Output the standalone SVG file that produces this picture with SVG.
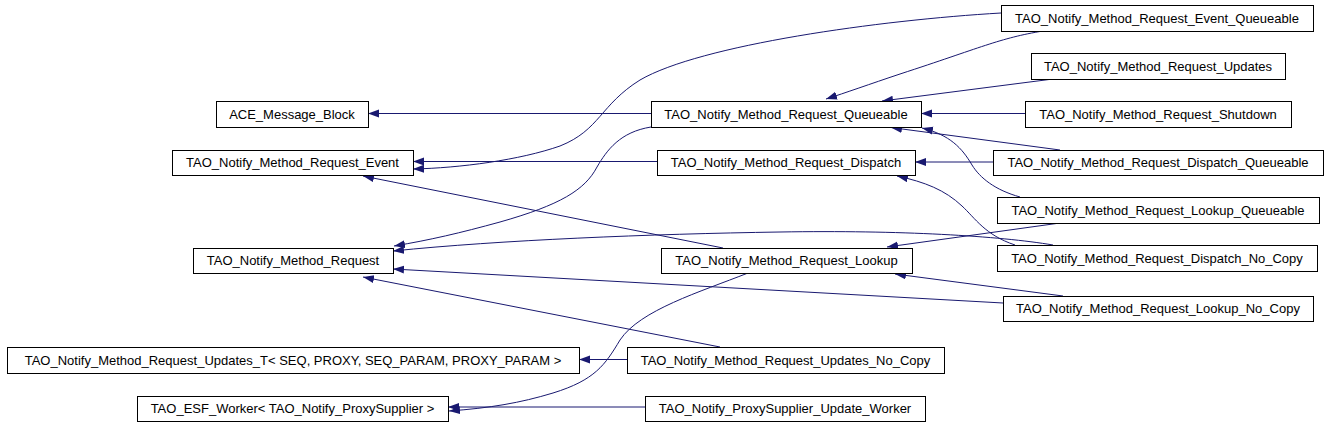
<svg xmlns="http://www.w3.org/2000/svg" width="1328" height="424" viewBox="0 0 1328 424">
<style>
.n rect{fill:#fff;stroke:#000;stroke-width:1}
.n text{font-family:"Liberation Sans",Arial,sans-serif;font-size:13px;text-anchor:middle;fill:#000}
.e path{fill:none;stroke:#191970;stroke-width:1;marker-end:url(#ah)}
</style>
<defs>
<marker id="ah" markerUnits="userSpaceOnUse" markerWidth="12" markerHeight="9" refX="11" refY="4" orient="auto"><path d="M0,0 L11,4 L0,8 z" fill="#191970" stroke="none"/></marker>
</defs>
<rect width="1328" height="424" fill="#fff"/>
<g id="connectors" class="e">
<path d="M651,113.5 L368,113.5"/>
<path d="M1025,113.5 L921,113.5"/>
<path d="M993,162 L915,162"/>
<path d="M627,359.5 L579,359.5"/>
<path d="M645,407 L448,407"/>
<path d="M657,161.5 L413,161.5"/>
<path d="M1001,13 C880,20 700,45 640,80 C600,105 600,130 560,146 C520,160 460,168 413,169"/>
<path d="M1043,31 C1000,38 980,48 900,74 C870,84 845,93 826,99"/>
<path d="M1053,79 L882,101"/>
<path d="M1060,150 L891,127.5"/>
<path d="M1020,197 C995,190 980,178 972,165 C962,148 950,135 922,128"/>
<path d="M1015,245 C985,235 975,218 962,206 C945,190 925,182 897,176"/>
<path d="M1053,245 C1000,236 900,230 780,232 C650,234 500,240 393,251"/>
<path d="M651,127 C620,132 607,150 597,167 C585,190 560,205 500,222 C460,233 430,240 394,246"/>
<path d="M723,248 L363,176"/>
<path d="M1060,223 L887,247"/>
<path d="M1063,296 L895,274"/>
<path d="M1003,303 L393,269"/>
<path d="M720,347 L363,277"/>
<path d="M748,273 C700,292 640,310 620,340 C605,365 595,380 553,393 C520,403 490,408 449,411"/>
</g>
<g id="n_event_queueable" class="n"><rect x="1001.5" y="5.5" width="312" height="26"/><text x="1157" y="23">TAO_Notify_Method_Request_Event_Queueable</text></g>
<g id="n_updates" class="n"><rect x="1031.5" y="53.5" width="254" height="26"/><text x="1158" y="71">TAO_Notify_Method_Request_Updates</text></g>
<g id="n_ace_message_block" class="n"><rect x="216.5" y="101.5" width="152" height="26"/><text x="292" y="119">ACE_Message_Block</text></g>
<g id="n_queueable" class="n"><rect x="651.5" y="101.5" width="270" height="26"/><text x="786" y="119">TAO_Notify_Method_Request_Queueable</text></g>
<g id="n_shutdown" class="n"><rect x="1025.5" y="101.5" width="266" height="26"/><text x="1158" y="119">TAO_Notify_Method_Request_Shutdown</text></g>
<g id="n_event" class="n"><rect x="172.5" y="150.5" width="241" height="25"/><text x="292.5" y="167">TAO_Notify_Method_Request_Event</text></g>
<g id="n_dispatch" class="n"><rect x="657.5" y="150.5" width="258" height="25"/><text x="786" y="167">TAO_Notify_Method_Request_Dispatch</text></g>
<g id="n_dispatch_queueable" class="n"><rect x="993.5" y="150.5" width="330" height="25"/><text x="1158" y="167">TAO_Notify_Method_Request_Dispatch_Queueable</text></g>
<g id="n_lookup_queueable" class="n"><rect x="997.5" y="197.5" width="322" height="26"/><text x="1158" y="215">TAO_Notify_Method_Request_Lookup_Queueable</text></g>
<g id="n_dispatch_no_copy" class="n"><rect x="997.5" y="245.5" width="320" height="26"/><text x="1157" y="263">TAO_Notify_Method_Request_Dispatch_No_Copy</text></g>
<g id="n_method_request" class="n"><rect x="193.5" y="248.5" width="200" height="25"/><text x="293" y="265">TAO_Notify_Method_Request</text></g>
<g id="n_lookup" class="n"><rect x="661.5" y="248.5" width="251" height="25"/><text x="786.5" y="265">TAO_Notify_Method_Request_Lookup</text></g>
<g id="n_lookup_no_copy" class="n"><rect x="1003.5" y="296.5" width="310" height="25"/><text x="1158" y="313">TAO_Notify_Method_Request_Lookup_No_Copy</text></g>
<g id="n_updates_t" class="n"><rect x="7.5" y="347.5" width="572" height="26"/><text x="293" y="365">TAO_Notify_Method_Request_Updates_T&lt; SEQ, PROXY, SEQ_PARAM, PROXY_PARAM &gt;</text></g>
<g id="n_updates_no_copy" class="n"><rect x="627.5" y="347.5" width="317" height="26"/><text x="785.5" y="365">TAO_Notify_Method_Request_Updates_No_Copy</text></g>
<g id="n_esf_worker" class="n"><rect x="137.5" y="396.5" width="311" height="25"/><text x="292.5" y="413">TAO_ESF_Worker&lt; TAO_Notify_ProxySupplier &gt;</text></g>
<g id="n_proxysupplier_update_worker" class="n"><rect x="645.5" y="396.5" width="280" height="25"/><text x="785" y="413">TAO_Notify_ProxySupplier_Update_Worker</text></g>
</svg>
